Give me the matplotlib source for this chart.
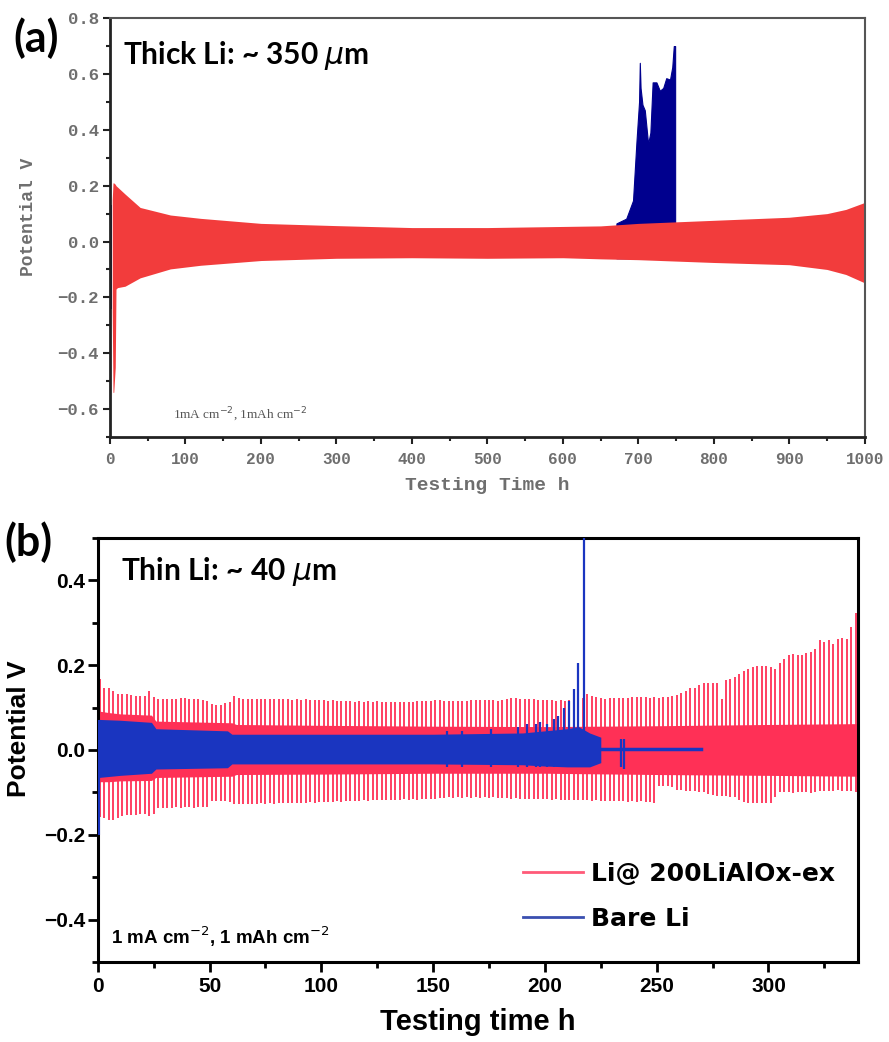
import numpy as np
import matplotlib
matplotlib.use("Agg")
import matplotlib.pyplot as plt
from matplotlib.ticker import MultipleLocator

# ---------------- (a) thick Li, 1000 h ----------------
# envelope of the Li@LiAlOx cell (red)
a_red_t = [3, 4, 5, 7, 8, 10, 20, 40, 80, 120, 200, 300, 400, 500, 600, 650, 700, 800, 900, 950, 975, 1000]
a_red_hi = [0.15, 0.21, 0.21, 0.205, 0.20, 0.195, 0.17, 0.122, 0.095, 0.083, 0.065, 0.057, 0.050,
            0.050, 0.054, 0.056, 0.065, 0.076, 0.087, 0.100, 0.115, 0.140]
a_red_lo = [-0.25, -0.54, -0.54, -0.45, -0.17, -0.165, -0.16, -0.13, -0.098, -0.085, -0.068, -0.060,
            -0.058, -0.060, -0.058, -0.062, -0.065, -0.075, -0.083, -0.100, -0.118, -0.148]
# bare Li (blue): start and short-circuit region
a_blue0_t = [0, 3]
a_blue0_hi = [0.13, 0.13]
a_blue0_lo = [-0.24, -0.24]
a_blue_t = [671, 684, 693, 697.6, 701, 702, 703, 705.5, 708.6, 713, 716, 719, 724, 728.5, 733,
            737, 742, 745, 747, 748.8]
a_blue_hi = [0.065, 0.082, 0.147, 0.36, 0.50, 0.64, 0.55, 0.49, 0.47, 0.35, 0.39, 0.57, 0.57, 0.54,
             0.55, 0.585, 0.58, 0.625, 0.70, 0.70]
a_blue_lo = [-0.06] * len(a_blue_t)

# ---------------- (b) thin Li, 340 h ----------------
cyc_t = np.arange(1, 340, 2)  # one cycle every 2 h
b_red_hi = [
    0.167, 0.145, 0.145, 0.140, 0.133, 0.132, 0.131, 0.130, 0.128, 0.127,
    0.128, 0.138, 0.125, 0.120, 0.120, 0.120, 0.121, 0.121, 0.122, 0.122,
    0.121, 0.120, 0.120, 0.118, 0.116, 0.108, 0.107, 0.107, 0.110, 0.112,
    0.127, 0.122, 0.121, 0.120, 0.121, 0.120, 0.120, 0.121, 0.120, 0.119,
    0.120, 0.119, 0.120, 0.118, 0.119, 0.118, 0.119, 0.118, 0.117, 0.118,
    0.117, 0.116, 0.117, 0.116, 0.115, 0.116, 0.115, 0.114, 0.115, 0.114,
    0.115, 0.114, 0.115, 0.113, 0.114, 0.113, 0.112, 0.113, 0.112, 0.113,
    0.114, 0.115, 0.116, 0.115, 0.116, 0.117, 0.117, 0.116, 0.115, 0.115,
    0.116, 0.115, 0.116, 0.117, 0.118, 0.118, 0.117, 0.118, 0.117, 0.116,
    0.118, 0.121, 0.122, 0.122, 0.121, 0.120, 0.121, 0.119, 0.117, 0.118,
    0.118, 0.117, 0.116, 0.117, 0.116, 0.118, 0.119, 0.120, 0.122, 0.131,
    0.127, 0.124, 0.122, 0.121, 0.122, 0.122, 0.123, 0.122, 0.123, 0.124,
    0.124, 0.125, 0.124, 0.123, 0.124, 0.123, 0.124, 0.125, 0.128, 0.130,
    0.135, 0.138, 0.145, 0.147, 0.152, 0.157, 0.158, 0.158, 0.157, 0.120,
    0.165, 0.168, 0.172, 0.178, 0.185, 0.190, 0.195, 0.197, 0.197, 0.197,
    0.195, 0.190, 0.205, 0.215, 0.225, 0.226, 0.225, 0.225, 0.228, 0.232,
    0.238, 0.260, 0.255, 0.260, 0.250, 0.262, 0.264, 0.262, 0.290, 0.322]
b_red_lo = [
    -0.159, -0.160, -0.165, -0.165, -0.160, -0.155, -0.154, -0.153, -0.153, -0.152,
    -0.152, -0.155, -0.150, -0.138, -0.137, -0.136, -0.136, -0.135, -0.136, -0.135,
    -0.135, -0.136, -0.135, -0.134, -0.135, -0.120, -0.120, -0.121, -0.120, -0.122,
    -0.128, -0.128, -0.127, -0.127, -0.128, -0.127, -0.126, -0.127, -0.126, -0.127,
    -0.126, -0.125, -0.126, -0.125, -0.124, -0.125, -0.124, -0.123, -0.124, -0.123,
    -0.122, -0.123, -0.122, -0.121, -0.122, -0.121, -0.120, -0.121, -0.120, -0.119,
    -0.120, -0.119, -0.118, -0.119, -0.118, -0.117, -0.118, -0.117, -0.116, -0.117,
    -0.116, -0.117, -0.116, -0.115, -0.116, -0.115, -0.114, -0.113, -0.112, -0.113,
    -0.112, -0.113, -0.112, -0.113, -0.112, -0.113, -0.112, -0.113, -0.112, -0.113,
    -0.113, -0.114, -0.115, -0.114, -0.115, -0.116, -0.115, -0.116, -0.115, -0.116,
    -0.116, -0.117, -0.116, -0.117, -0.118, -0.117, -0.118, -0.119, -0.118, -0.119,
    -0.120, -0.119, -0.120, -0.121, -0.120, -0.121, -0.120, -0.121, -0.122, -0.121,
    -0.122, -0.121, -0.123, -0.122, -0.125, -0.085, -0.084, -0.086, -0.088, -0.094,
    -0.095, -0.096, -0.097, -0.098, -0.099, -0.100, -0.104, -0.106, -0.108, -0.108,
    -0.109, -0.110, -0.112, -0.118, -0.122, -0.124, -0.126, -0.125, -0.126, -0.124,
    -0.125, -0.110, -0.100, -0.099, -0.100, -0.101, -0.100, -0.099, -0.100, -0.101,
    -0.100, -0.097, -0.096, -0.097, -0.096, -0.095, -0.096, -0.097, -0.096, -0.100]
# dense inner part of the red trace
b_band_t = [0, 5, 10, 24, 26, 60, 62, 100, 150, 200, 250, 300, 340]
b_band_hi = [0.092, 0.088, 0.085, 0.082, 0.068, 0.064, 0.060, 0.058, 0.056, 0.055, 0.057, 0.060, 0.062]
b_band_lo = [-0.075, -0.075, -0.073, -0.072, -0.065, -0.062, -0.058, -0.057, -0.055, -0.055, -0.058, -0.060, -0.062]
# bare Li band
b_blue_t = [0.3, 10, 24, 26, 58, 60, 150, 190, 200, 210, 215, 220, 225]
b_blue_hi = [0.072, 0.070, 0.065, 0.050, 0.045, 0.037, 0.037, 0.040, 0.045, 0.050, 0.055, 0.040, 0.030]
b_blue_lo = [-0.065, -0.060, -0.055, -0.045, -0.042, -0.033, -0.033, -0.035, -0.038, -0.040, -0.040, -0.040, -0.030]
# bare Li spikes before failure
b_spk_t = [156, 163, 176, 188, 192, 196, 198, 201, 204, 206, 208.5, 211, 213, 215, 217.5]
b_spk_hi = [0.045, 0.045, 0.050, 0.055, 0.060, 0.062, 0.065, 0.060, 0.072, 0.080, 0.100, 0.115, 0.143, 0.205, 0.52]
b_spk_lo = [-0.040] * len(b_spk_t)
# flat tail after short circuit
b_tail_t = [225, 270]
b_tail_v = [0.002, 0.002]
b_dip_t = [234, 235.5]
b_dip_hi = [0.025, 0.025]
b_dip_lo = [-0.040, -0.045]

fig = plt.figure(figsize=(8.89, 10.42), dpi=100)

# ---------- panel (a) ----------
grey = "#6e6e6e"
mono = "Liberation Mono"
ax1 = fig.add_axes([0.1237, 0.5806, 0.849, 0.402])
ax1.fill_between(a_blue0_t, a_blue0_lo, a_blue0_hi, color="#10108a", lw=0)
ax1.fill_between(a_blue_t, a_blue_lo, a_blue_hi, color="#00008e", lw=0.8, edgecolor="#00008e")
ax1.fill_between(a_red_t, a_red_lo, a_red_hi, color="#f23c3c", lw=0)
ax1.set_xlim(0, 1000)
ax1.set_ylim(-0.7, 0.8)
ax1.xaxis.set_major_locator(MultipleLocator(100))
ax1.xaxis.set_minor_locator(MultipleLocator(50))
ax1.yaxis.set_major_locator(MultipleLocator(0.2))
ax1.yaxis.set_minor_locator(MultipleLocator(0.1))
ax1.tick_params(which="both", direction="out", top=False, right=False, colors="#222222",
                labelcolor=grey, width=1.5)
ax1.tick_params(axis="x", labelsize=11.5, pad=6)
ax1.tick_params(axis="y", labelsize=12.5, pad=3)
ax1.tick_params(which="major", length=5)
ax1.tick_params(which="minor", length=3)
for lab in ax1.get_xticklabels() + ax1.get_yticklabels():
    lab.set_fontfamily(mono)
    lab.set_fontweight("bold")
for s in ["left", "bottom"]:
    ax1.spines[s].set_linewidth(2)
    ax1.spines[s].set_color("#222222")
for s in ["top", "right"]:
    ax1.spines[s].set_linewidth(1.5)
    ax1.spines[s].set_color("#555555")
ax1.set_xlabel("Testing Time h", fontfamily=mono, fontsize=14, color=grey, fontweight="bold", labelpad=7)
ax1.set_ylabel("Potential V", fontfamily=mono, fontsize=13, color=grey, fontweight="bold")
ax1.yaxis.set_label_coords(-0.097, 0.525)
ax1.text(0.017, 0.91, r"Thick Li: ~ 350 $\mu$m", transform=ax1.transAxes, fontsize=21.5,
         fontfamily="Lato", fontweight="bold", va="center")
ax1.text(0.083, 0.052, r"1mA cm$^{-2}$, 1mAh cm$^{-2}$", transform=ax1.transAxes, fontsize=9.5,
         fontfamily="Liberation Serif", color="#555555", va="center")
fig.text(0.015, 0.963, "(a)", fontsize=31, fontfamily="Lato", fontweight="bold", va="center")

# ---------- panel (b) ----------
red_b = "#ff3056"
blue_b = "#1a35c0"
ax2 = fig.add_axes([0.110, 0.0768, 0.855, 0.407])
ax2.vlines(cyc_t, b_red_lo, b_red_hi, color=red_b, lw=1.3, zorder=1)
ax2.fill_between(b_band_t, b_band_lo, b_band_hi, color=red_b, lw=0, zorder=1.5)
ax2.vlines([0.3], [-0.5], [0.0], color=red_b, lw=1.5, zorder=1.5)
ax2.fill_between(b_blue_t, b_blue_lo, b_blue_hi, color=blue_b, lw=0, zorder=3)
ax2.vlines([0.5], [-0.2], [0.07], color=blue_b, lw=1.5, zorder=3)
ax2.vlines(b_spk_t, b_spk_lo, b_spk_hi, color=blue_b, lw=1.6, zorder=3)
ax2.vlines(b_dip_t, b_dip_lo, b_dip_hi, color=blue_b, lw=1.6, zorder=3)
ax2.plot(b_tail_t, b_tail_v, color=blue_b, lw=2.5, zorder=3)
# legend handles
ax2.plot([], [], color="#ff5a78", lw=2, label="Li@ 200LiAlOx-ex")
ax2.plot([], [], color="#3a4fb0", lw=2, label="Bare Li")
leg = ax2.legend(loc="lower right", bbox_to_anchor=(1.0, 0.02), frameon=False, handlelength=2.4,
                 handletextpad=0.35, labelspacing=0.85,
                 prop={"family": "DejaVu Sans", "weight": "bold", "size": 18})

ax2.set_xlim(0, 340)
ax2.set_ylim(-0.5, 0.5)
ax2.xaxis.set_major_locator(MultipleLocator(50))
ax2.xaxis.set_minor_locator(MultipleLocator(25))
ax2.yaxis.set_major_locator(MultipleLocator(0.2))
ax2.yaxis.set_minor_locator(MultipleLocator(0.1))
ax2.tick_params(which="both", direction="out", top=False, right=False, width=2, labelsize=15)
ax2.tick_params(axis="y", pad=2)
ax2.tick_params(which="major", length=7)
ax2.tick_params(which="minor", length=4)
for lab in ax2.get_xticklabels() + ax2.get_yticklabels():
    lab.set_fontfamily("Liberation Sans")
    lab.set_fontweight("bold")
for s in ax2.spines.values():
    s.set_linewidth(2.2)
ax2.set_xlabel("Testing time h", fontfamily="Liberation Sans", fontsize=21, fontweight="bold", labelpad=9)
ax2.set_ylabel("Potential V", fontfamily="Liberation Sans", fontsize=19, fontweight="bold")
ax2.yaxis.set_label_coords(-0.088, 0.55)
ax2.text(0.03, 0.92, r"Thin Li: ~ 40 $\mu$m", transform=ax2.transAxes, fontsize=21.5,
         fontfamily="Lato", fontweight="bold", va="center")
ax2.text(0.018, 0.06, r"1 mA cm$^{-2}$, 1 mAh cm$^{-2}$", transform=ax2.transAxes, fontsize=13.5,
         fontfamily="Liberation Sans", fontweight="bold", va="center")
fig.text(0.005, 0.48, "(b)", fontsize=31, fontfamily="Lato", fontweight="bold", va="center")

fig.savefig("out.png", dpi=100)
